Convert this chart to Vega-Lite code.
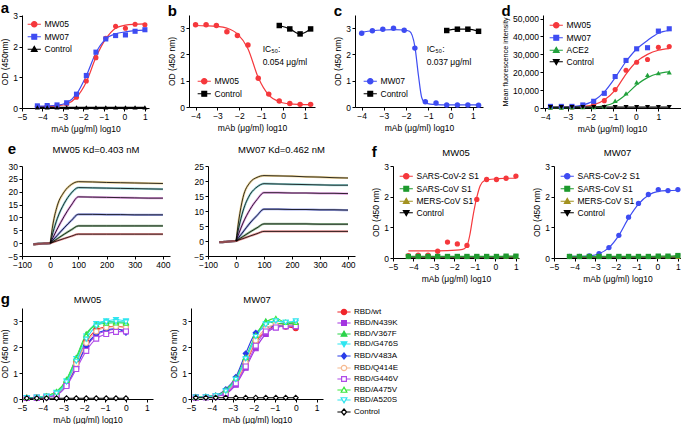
{
"$schema": "https://vega.github.io/schema/vega-lite/v6.json",
"background": "white",
"padding": {"left": 0, "top": 0, "right": 0, "bottom": 0},
"config": {
 "font": "Liberation Sans",
 "view": {"stroke": null},
 "axis": {"labelFontSize": 8.5, "titleFontSize": 8.5, "titleFontWeight": "normal", "tickSize": 3, "labelPadding": 1.5, "titlePadding": 3, "domainColor": "#000", "tickColor": "#000", "labelColor": "#000", "titleColor": "#000", "grid": false, "labelFlush": false, "labelFont": "Liberation Sans", "titleFont": "Liberation Sans"},
 "legend": {"labelFontSize": 8.5, "labelFont": "Liberation Sans", "labelColor": "#000", "symbolSize": 36, "rowPadding": 1.5, "padding": 0, "labelOffset": 6, "symbolOffset": 3, "offset": 5, "symbolStrokeWidth": 1.2},
 "title": {"fontSize": 15, "fontWeight": "bold", "anchor": "start", "color": "#000", "font": "Liberation Sans"}
},
"resolve": {"scale": {"color": "independent", "shape": "independent", "fill": "independent", "stroke": "independent"}, "legend": {"color": "independent"}},
"datasets": {
 "a": [
  {"s":"MW05","k":"p","x":-4.25,"y":0.05},{"s":"MW05","k":"p","x":-3.77,"y":0.07},{"s":"MW05","k":"p","x":-3.29,"y":0.08},{"s":"MW05","k":"p","x":-2.82,"y":0.14},{"s":"MW05","k":"p","x":-2.34,"y":0.35},{"s":"MW05","k":"p","x":-1.86,"y":0.88},{"s":"MW05","k":"p","x":-1.39,"y":1.64},{"s":"MW05","k":"p","x":-0.91,"y":2.27},{"s":"MW05","k":"p","x":-0.43,"y":2.66},{"s":"MW05","k":"p","x":0.05,"y":2.6},{"s":"MW05","k":"p","x":0.52,"y":2.73},{"s":"MW05","k":"p","x":1.0,"y":2.71},
  {"s":"MW05","k":"f","x":-4.25,"y":0.04},{"s":"MW05","k":"f","x":-3.77,"y":0.05},{"s":"MW05","k":"f","x":-3.29,"y":0.07},{"s":"MW05","k":"f","x":-2.82,"y":0.13},{"s":"MW05","k":"f","x":-2.34,"y":0.35},{"s":"MW05","k":"f","x":-1.86,"y":0.85},{"s":"MW05","k":"f","x":-1.39,"y":1.65},{"s":"MW05","k":"f","x":-0.91,"y":2.25},{"s":"MW05","k":"f","x":-0.43,"y":2.6},{"s":"MW05","k":"f","x":0.05,"y":2.7},{"s":"MW05","k":"f","x":0.52,"y":2.73},{"s":"MW05","k":"f","x":1.0,"y":2.74},
  {"s":"MW07","k":"p","x":-4.25,"y":0.07},{"s":"MW07","k":"p","x":-3.77,"y":0.08},{"s":"MW07","k":"p","x":-3.29,"y":0.1},{"s":"MW07","k":"p","x":-2.82,"y":0.17},{"s":"MW07","k":"p","x":-2.34,"y":0.45},{"s":"MW07","k":"p","x":-1.86,"y":1.06},{"s":"MW07","k":"p","x":-1.39,"y":1.82},{"s":"MW07","k":"p","x":-0.91,"y":2.25},{"s":"MW07","k":"p","x":-0.43,"y":2.36},{"s":"MW07","k":"p","x":0.05,"y":2.38},{"s":"MW07","k":"p","x":0.52,"y":2.5},{"s":"MW07","k":"p","x":1.0,"y":2.55},
  {"s":"MW07","k":"f","x":-4.25,"y":0.06},{"s":"MW07","k":"f","x":-3.77,"y":0.07},{"s":"MW07","k":"f","x":-3.29,"y":0.09},{"s":"MW07","k":"f","x":-2.82,"y":0.17},{"s":"MW07","k":"f","x":-2.34,"y":0.45},{"s":"MW07","k":"f","x":-1.86,"y":1.05},{"s":"MW07","k":"f","x":-1.39,"y":1.8},{"s":"MW07","k":"f","x":-0.91,"y":2.25},{"s":"MW07","k":"f","x":-0.43,"y":2.42},{"s":"MW07","k":"f","x":0.05,"y":2.48},{"s":"MW07","k":"f","x":0.52,"y":2.52},{"s":"MW07","k":"f","x":1.0,"y":2.54},
  {"s":"Control","k":"pf","x":-4.25,"y":0.02},{"s":"Control","k":"pf","x":-3.77,"y":0.02},{"s":"Control","k":"pf","x":-3.29,"y":0.02},{"s":"Control","k":"pf","x":-2.82,"y":0.02},{"s":"Control","k":"pf","x":-2.34,"y":0.02},{"s":"Control","k":"pf","x":-1.86,"y":0.02},{"s":"Control","k":"pf","x":-1.39,"y":0.02},{"s":"Control","k":"pf","x":-0.91,"y":0.02},{"s":"Control","k":"pf","x":-0.43,"y":0.02},{"s":"Control","k":"pf","x":0.05,"y":0.02},{"s":"Control","k":"pf","x":0.52,"y":0.02},{"s":"Control","k":"pf","x":1.0,"y":0.02}
 ],
 "b": [
  {"s":"MW05","k":"p","x":-4.0,"y":3.13},{"s":"MW05","k":"p","x":-3.52,"y":3.13},{"s":"MW05","k":"p","x":-3.05,"y":3.1},{"s":"MW05","k":"p","x":-2.57,"y":2.86},{"s":"MW05","k":"p","x":-2.09,"y":2.72},{"s":"MW05","k":"p","x":-1.61,"y":2.36},{"s":"MW05","k":"p","x":-1.14,"y":1.09},{"s":"MW05","k":"p","x":-0.66,"y":0.49},{"s":"MW05","k":"p","x":-0.18,"y":0.23},{"s":"MW05","k":"p","x":0.3,"y":0.13},{"s":"MW05","k":"p","x":0.77,"y":0.1},{"s":"MW05","k":"p","x":1.25,"y":0.1},
  {"s":"MW05","k":"f","x":-4.0,"y":3.1},{"s":"MW05","k":"f","x":-3.52,"y":3.09},{"s":"MW05","k":"f","x":-3.05,"y":3.07},{"s":"MW05","k":"f","x":-2.57,"y":3.0},{"s":"MW05","k":"f","x":-2.09,"y":2.78},{"s":"MW05","k":"f","x":-1.61,"y":2.22},{"s":"MW05","k":"f","x":-1.14,"y":1.12},{"s":"MW05","k":"f","x":-0.66,"y":0.45},{"s":"MW05","k":"f","x":-0.18,"y":0.2},{"s":"MW05","k":"f","x":0.3,"y":0.12},{"s":"MW05","k":"f","x":0.77,"y":0.1},{"s":"MW05","k":"f","x":1.25,"y":0.09},
  {"s":"Control","k":"pf","x":-0.18,"y":3.1},{"s":"Control","k":"pf","x":0.3,"y":2.97},{"s":"Control","k":"pf","x":0.77,"y":2.78},{"s":"Control","k":"pf","x":1.25,"y":2.97},
  {"k":"t","x":-0.94,"y":2.2,"t":"IC₅₀:"},{"k":"t","x":-0.94,"y":1.72,"t":"0.054 μg/ml"}
 ],
 "c": [
  {"s":"MW07","k":"p","x":-4.0,"y":2.81},{"s":"MW07","k":"p","x":-3.52,"y":2.9},{"s":"MW07","k":"p","x":-3.05,"y":2.96},{"s":"MW07","k":"p","x":-2.57,"y":3.0},{"s":"MW07","k":"p","x":-2.09,"y":2.92},{"s":"MW07","k":"p","x":-1.61,"y":2.24},{"s":"MW07","k":"p","x":-1.14,"y":0.2},{"s":"MW07","k":"p","x":-0.66,"y":0.15},{"s":"MW07","k":"p","x":-0.18,"y":0.08},{"s":"MW07","k":"p","x":0.3,"y":0.08},{"s":"MW07","k":"p","x":0.77,"y":0.08},{"s":"MW07","k":"p","x":1.25,"y":0.07},
  {"s":"MW07","k":"f","x":-4.0,"y":2.84},{"s":"MW07","k":"f","x":-3.52,"y":2.9},{"s":"MW07","k":"f","x":-3.05,"y":2.93},{"s":"MW07","k":"f","x":-2.57,"y":2.94},{"s":"MW07","k":"f","x":-2.09,"y":2.93},{"s":"MW07","k":"f","x":-1.85,"y":2.88},{"s":"MW07","k":"f","x":-1.61,"y":2.3},{"s":"MW07","k":"f","x":-1.45,"y":1.2},{"s":"MW07","k":"f","x":-1.3,"y":0.35},{"s":"MW07","k":"f","x":-1.14,"y":0.15},{"s":"MW07","k":"f","x":-0.66,"y":0.09},{"s":"MW07","k":"f","x":-0.18,"y":0.08},{"s":"MW07","k":"f","x":0.3,"y":0.08},{"s":"MW07","k":"f","x":0.77,"y":0.08},{"s":"MW07","k":"f","x":1.25,"y":0.08},
  {"s":"Control","k":"pf","x":-0.18,"y":2.91},{"s":"Control","k":"pf","x":0.3,"y":2.96},{"s":"Control","k":"pf","x":0.77,"y":2.96},{"s":"Control","k":"pf","x":1.25,"y":2.88},
  {"k":"t","x":-1.08,"y":2.2,"t":"IC₅₀:"},{"k":"t","x":-1.08,"y":1.72,"t":"0.037 μg/ml"}
 ],
 "d": [
  {"s":"MW05","k":"p","x":-3.77,"y":400},{"s":"MW05","k":"p","x":-3.29,"y":500},{"s":"MW05","k":"p","x":-2.82,"y":600},{"s":"MW05","k":"p","x":-2.34,"y":800},{"s":"MW05","k":"p","x":-1.86,"y":1900},{"s":"MW05","k":"p","x":-1.39,"y":4100},{"s":"MW05","k":"p","x":-0.91,"y":10300},{"s":"MW05","k":"p","x":-0.43,"y":21100},{"s":"MW05","k":"p","x":0.04,"y":25600},{"s":"MW05","k":"p","x":0.52,"y":27100},{"s":"MW05","k":"p","x":1.0,"y":33900},{"s":"MW05","k":"p","x":1.48,"y":34400},
  {"s":"MW05","k":"f","x":-3.77,"y":200},{"s":"MW05","k":"f","x":-3.29,"y":300},{"s":"MW05","k":"f","x":-2.82,"y":400},{"s":"MW05","k":"f","x":-2.34,"y":800},{"s":"MW05","k":"f","x":-1.86,"y":1800},{"s":"MW05","k":"f","x":-1.39,"y":4500},{"s":"MW05","k":"f","x":-0.91,"y":10000},{"s":"MW05","k":"f","x":-0.43,"y":19000},{"s":"MW05","k":"f","x":0.04,"y":26000},{"s":"MW05","k":"f","x":0.52,"y":30000},{"s":"MW05","k":"f","x":1.0,"y":32300},{"s":"MW05","k":"f","x":1.48,"y":33200},
  {"s":"MW07","k":"p","x":-3.77,"y":900},{"s":"MW07","k":"p","x":-3.29,"y":900},{"s":"MW07","k":"p","x":-2.82,"y":900},{"s":"MW07","k":"p","x":-2.34,"y":1700},{"s":"MW07","k":"p","x":-1.86,"y":3750},{"s":"MW07","k":"p","x":-1.39,"y":8200},{"s":"MW07","k":"p","x":-0.91,"y":17600},{"s":"MW07","k":"p","x":-0.43,"y":26600},{"s":"MW07","k":"p","x":0.04,"y":33100},{"s":"MW07","k":"p","x":0.52,"y":33700},{"s":"MW07","k":"p","x":1.0,"y":43000},{"s":"MW07","k":"p","x":1.48,"y":44300},
  {"s":"MW07","k":"f","x":-3.77,"y":300},{"s":"MW07","k":"f","x":-3.29,"y":400},{"s":"MW07","k":"f","x":-2.82,"y":700},{"s":"MW07","k":"f","x":-2.34,"y":1600},{"s":"MW07","k":"f","x":-1.86,"y":4000},{"s":"MW07","k":"f","x":-1.39,"y":9000},{"s":"MW07","k":"f","x":-0.91,"y":17000},{"s":"MW07","k":"f","x":-0.43,"y":26000},{"s":"MW07","k":"f","x":0.04,"y":33000},{"s":"MW07","k":"f","x":0.52,"y":37800},{"s":"MW07","k":"f","x":1.0,"y":41800},{"s":"MW07","k":"f","x":1.48,"y":43400},
  {"s":"ACE2","k":"p","x":-3.77,"y":300},{"s":"ACE2","k":"p","x":-3.29,"y":300},{"s":"ACE2","k":"p","x":-2.82,"y":400},{"s":"ACE2","k":"p","x":-2.34,"y":500},{"s":"ACE2","k":"p","x":-1.86,"y":600},{"s":"ACE2","k":"p","x":-1.39,"y":900},{"s":"ACE2","k":"p","x":-0.91,"y":4100},{"s":"ACE2","k":"p","x":-0.43,"y":8200},{"s":"ACE2","k":"p","x":0.04,"y":14400},{"s":"ACE2","k":"p","x":0.52,"y":18500},{"s":"ACE2","k":"p","x":1.0,"y":19600},{"s":"ACE2","k":"p","x":1.48,"y":20000},
  {"s":"ACE2","k":"f","x":-3.77,"y":200},{"s":"ACE2","k":"f","x":-3.29,"y":200},{"s":"ACE2","k":"f","x":-2.82,"y":300},{"s":"ACE2","k":"f","x":-2.34,"y":400},{"s":"ACE2","k":"f","x":-1.86,"y":500},{"s":"ACE2","k":"f","x":-1.39,"y":1200},{"s":"ACE2","k":"f","x":-0.91,"y":3200},{"s":"ACE2","k":"f","x":-0.43,"y":7500},{"s":"ACE2","k":"f","x":0.04,"y":13000},{"s":"ACE2","k":"f","x":0.52,"y":17000},{"s":"ACE2","k":"f","x":1.0,"y":19300},{"s":"ACE2","k":"f","x":1.48,"y":20200},
  {"s":"Control","k":"pf","x":-3.77,"y":500},{"s":"Control","k":"pf","x":-3.29,"y":500},{"s":"Control","k":"pf","x":-2.82,"y":500},{"s":"Control","k":"pf","x":-2.34,"y":500},{"s":"Control","k":"pf","x":-1.86,"y":500},{"s":"Control","k":"pf","x":-1.39,"y":500},{"s":"Control","k":"pf","x":-0.91,"y":500},{"s":"Control","k":"pf","x":-0.43,"y":500},{"s":"Control","k":"pf","x":0.04,"y":500},{"s":"Control","k":"pf","x":0.52,"y":500},{"s":"Control","k":"pf","x":1.0,"y":500},{"s":"Control","k":"pf","x":1.48,"y":500}
 ],
 "e1": [
  {"c":1,"t":-60,"y":-0.6},{"c":1,"t":-40,"y":-0.3},{"c":1,"t":-20,"y":-0.2},{"c":1,"t":0,"y":0},{"c":1,"t":10,"y":7.5},{"c":1,"t":25,"y":14.5},{"c":1,"t":50,"y":20},{"c":1,"t":75,"y":22.8},{"c":1,"t":100,"y":23.9},{"c":1,"t":150,"y":23.8},{"c":1,"t":200,"y":23.6},{"c":1,"t":250,"y":23.5},{"c":1,"t":300,"y":23.4},{"c":1,"t":350,"y":23.3},{"c":1,"t":400,"y":23.2},
  {"c":2,"t":-60,"y":-0.6},{"c":2,"t":-40,"y":-0.3},{"c":2,"t":-20,"y":-0.2},{"c":2,"t":0,"y":0},{"c":2,"t":10,"y":4.2},{"c":2,"t":25,"y":9.5},{"c":2,"t":50,"y":15.5},{"c":2,"t":75,"y":19.5},{"c":2,"t":100,"y":21.6},{"c":2,"t":150,"y":21.5},{"c":2,"t":200,"y":21.4},{"c":2,"t":250,"y":21.3},{"c":2,"t":300,"y":21.2},{"c":2,"t":350,"y":21.1},{"c":2,"t":400,"y":21.0},
  {"c":3,"t":-60,"y":-0.5},{"c":3,"t":-40,"y":-0.3},{"c":3,"t":-20,"y":-0.1},{"c":3,"t":0,"y":0},{"c":3,"t":10,"y":2.2},{"c":3,"t":25,"y":5.5},{"c":3,"t":50,"y":10.5},{"c":3,"t":75,"y":14.8},{"c":3,"t":100,"y":18.0},{"c":3,"t":150,"y":17.9},{"c":3,"t":200,"y":17.8},{"c":3,"t":250,"y":17.7},{"c":3,"t":300,"y":17.6},{"c":3,"t":350,"y":17.5},{"c":3,"t":400,"y":17.5},
  {"c":4,"t":-60,"y":-0.4},{"c":4,"t":-40,"y":-0.2},{"c":4,"t":-20,"y":-0.1},{"c":4,"t":0,"y":0},{"c":4,"t":10,"y":1.2},{"c":4,"t":25,"y":3.0},{"c":4,"t":50,"y":6.0},{"c":4,"t":75,"y":8.8},{"c":4,"t":100,"y":11.2},{"c":4,"t":150,"y":11.2},{"c":4,"t":200,"y":11.1},{"c":4,"t":250,"y":11.1},{"c":4,"t":300,"y":11.0},{"c":4,"t":350,"y":11.0},{"c":4,"t":400,"y":11.0},
  {"c":5,"t":-60,"y":-0.5},{"c":5,"t":-40,"y":-0.2},{"c":5,"t":-20,"y":-0.1},{"c":5,"t":0,"y":0},{"c":5,"t":10,"y":0.6},{"c":5,"t":25,"y":1.7},{"c":5,"t":50,"y":3.5},{"c":5,"t":75,"y":5.2},{"c":5,"t":100,"y":6.7},{"c":5,"t":150,"y":6.7},{"c":5,"t":200,"y":6.7},{"c":5,"t":250,"y":6.7},{"c":5,"t":300,"y":6.7},{"c":5,"t":350,"y":6.7},{"c":5,"t":400,"y":6.7},
  {"c":6,"t":-60,"y":-0.5},{"c":6,"t":-40,"y":-0.3},{"c":6,"t":-20,"y":-0.1},{"c":6,"t":0,"y":0},{"c":6,"t":10,"y":0.35},{"c":6,"t":25,"y":0.9},{"c":6,"t":50,"y":1.8},{"c":6,"t":75,"y":2.7},{"c":6,"t":100,"y":3.5},{"c":6,"t":150,"y":3.5},{"c":6,"t":200,"y":3.5},{"c":6,"t":250,"y":3.5},{"c":6,"t":300,"y":3.5},{"c":6,"t":350,"y":3.5},{"c":6,"t":400,"y":3.5}
 ],
 "e2": [
  {"c":1,"t":-60,"y":-0.4},{"c":1,"t":-40,"y":-0.3},{"c":1,"t":-20,"y":-0.1},{"c":1,"t":0,"y":0},{"c":1,"t":10,"y":7.0},{"c":1,"t":25,"y":14.5},{"c":1,"t":50,"y":19.5},{"c":1,"t":75,"y":21.2},{"c":1,"t":100,"y":21.8},{"c":1,"t":150,"y":21.7},{"c":1,"t":200,"y":21.6},{"c":1,"t":250,"y":21.4},{"c":1,"t":300,"y":21.3},{"c":1,"t":350,"y":21.1},{"c":1,"t":400,"y":21.0},
  {"c":2,"t":-60,"y":-0.4},{"c":2,"t":-40,"y":-0.3},{"c":2,"t":-20,"y":-0.1},{"c":2,"t":0,"y":0},{"c":2,"t":10,"y":4.5},{"c":2,"t":25,"y":10.0},{"c":2,"t":50,"y":15.5},{"c":2,"t":75,"y":18.0},{"c":2,"t":100,"y":19.1},{"c":2,"t":150,"y":19.0},{"c":2,"t":200,"y":18.9},{"c":2,"t":250,"y":18.8},{"c":2,"t":300,"y":18.7},{"c":2,"t":350,"y":18.6},{"c":2,"t":400,"y":18.6},
  {"c":3,"t":-60,"y":-0.4},{"c":3,"t":-40,"y":-0.3},{"c":3,"t":-20,"y":-0.1},{"c":3,"t":0,"y":0},{"c":3,"t":10,"y":2.5},{"c":3,"t":25,"y":6.0},{"c":3,"t":50,"y":10.5},{"c":3,"t":75,"y":13.8},{"c":3,"t":100,"y":16.1},{"c":3,"t":150,"y":16.1},{"c":3,"t":200,"y":16.0},{"c":3,"t":250,"y":16.0},{"c":3,"t":300,"y":15.9},{"c":3,"t":350,"y":15.9},{"c":3,"t":400,"y":15.8},
  {"c":4,"t":-60,"y":-0.4},{"c":4,"t":-40,"y":-0.3},{"c":4,"t":-20,"y":-0.1},{"c":4,"t":0,"y":0},{"c":4,"t":10,"y":1.2},{"c":4,"t":25,"y":3.0},{"c":4,"t":50,"y":6.0},{"c":4,"t":75,"y":8.5},{"c":4,"t":100,"y":10.6},{"c":4,"t":150,"y":10.6},{"c":4,"t":200,"y":10.5},{"c":4,"t":250,"y":10.5},{"c":4,"t":300,"y":10.4},{"c":4,"t":350,"y":10.4},{"c":4,"t":400,"y":10.3},
  {"c":5,"t":-60,"y":-0.4},{"c":5,"t":-40,"y":-0.3},{"c":5,"t":-20,"y":-0.1},{"c":5,"t":0,"y":0},{"c":5,"t":10,"y":0.6},{"c":5,"t":25,"y":1.5},{"c":5,"t":50,"y":3.0},{"c":5,"t":75,"y":4.4},{"c":5,"t":100,"y":5.7},{"c":5,"t":150,"y":5.7},{"c":5,"t":200,"y":5.7},{"c":5,"t":250,"y":5.7},{"c":5,"t":300,"y":5.6},{"c":5,"t":350,"y":5.6},{"c":5,"t":400,"y":5.6},
  {"c":6,"t":-60,"y":-0.4},{"c":6,"t":-40,"y":-0.3},{"c":6,"t":-20,"y":-0.1},{"c":6,"t":0,"y":0},{"c":6,"t":10,"y":0.35},{"c":6,"t":25,"y":0.8},{"c":6,"t":50,"y":1.65},{"c":6,"t":75,"y":2.45},{"c":6,"t":100,"y":3.2},{"c":6,"t":150,"y":3.2},{"c":6,"t":200,"y":3.2},{"c":6,"t":250,"y":3.2},{"c":6,"t":300,"y":3.2},{"c":6,"t":350,"y":3.2},{"c":6,"t":400,"y":3.2}
 ],
 "f1": [
  {"s":"Control","k":"pf","x":-4.25,"y":0.03},{"s":"Control","k":"pf","x":-3.77,"y":0.03},{"s":"Control","k":"pf","x":-3.29,"y":0.03},{"s":"Control","k":"pf","x":-2.82,"y":0.03},{"s":"Control","k":"pf","x":-2.34,"y":0.03},{"s":"Control","k":"pf","x":-1.86,"y":0.03},{"s":"Control","k":"pf","x":-1.39,"y":0.03},{"s":"Control","k":"pf","x":-0.91,"y":0.03},{"s":"Control","k":"pf","x":-0.43,"y":0.03},{"s":"Control","k":"pf","x":0.05,"y":0.03},{"s":"Control","k":"pf","x":0.52,"y":0.03},{"s":"Control","k":"pf","x":1.0,"y":0.03},
  {"s":"MERS-CoV S1","k":"pf","x":-4.25,"y":0.04},{"s":"MERS-CoV S1","k":"pf","x":-3.77,"y":0.04},{"s":"MERS-CoV S1","k":"pf","x":-3.29,"y":0.04},{"s":"MERS-CoV S1","k":"pf","x":-2.82,"y":0.04},{"s":"MERS-CoV S1","k":"pf","x":-2.34,"y":0.04},{"s":"MERS-CoV S1","k":"pf","x":-1.86,"y":0.04},{"s":"MERS-CoV S1","k":"pf","x":-1.39,"y":0.04},{"s":"MERS-CoV S1","k":"pf","x":-0.91,"y":0.04},{"s":"MERS-CoV S1","k":"pf","x":-0.43,"y":0.04},{"s":"MERS-CoV S1","k":"pf","x":0.05,"y":0.04},{"s":"MERS-CoV S1","k":"pf","x":0.52,"y":0.04},{"s":"MERS-CoV S1","k":"pf","x":1.0,"y":0.04},
  {"s":"SARS-CoV-2 S1","k":"p","x":-4.25,"y":0.08},{"s":"SARS-CoV-2 S1","k":"p","x":-3.77,"y":0.09},{"s":"SARS-CoV-2 S1","k":"p","x":-3.29,"y":0.09},{"s":"SARS-CoV-2 S1","k":"p","x":-2.82,"y":0.22},{"s":"SARS-CoV-2 S1","k":"p","x":-2.34,"y":0.52},{"s":"SARS-CoV-2 S1","k":"p","x":-1.86,"y":0.46},{"s":"SARS-CoV-2 S1","k":"p","x":-1.39,"y":0.41},{"s":"SARS-CoV-2 S1","k":"p","x":-0.91,"y":1.91},{"s":"SARS-CoV-2 S1","k":"p","x":-0.43,"y":2.56},{"s":"SARS-CoV-2 S1","k":"p","x":0.05,"y":2.56},{"s":"SARS-CoV-2 S1","k":"p","x":0.52,"y":2.6},{"s":"SARS-CoV-2 S1","k":"p","x":1.0,"y":2.67},
  {"s":"SARS-CoV-2 S1","k":"f","x":-4.25,"y":0.23},{"s":"SARS-CoV-2 S1","k":"f","x":-3.29,"y":0.23},{"s":"SARS-CoV-2 S1","k":"f","x":-2.34,"y":0.24},{"s":"SARS-CoV-2 S1","k":"f","x":-1.6,"y":0.28},{"s":"SARS-CoV-2 S1","k":"f","x":-1.39,"y":0.4},{"s":"SARS-CoV-2 S1","k":"f","x":-1.25,"y":0.75},{"s":"SARS-CoV-2 S1","k":"f","x":-1.1,"y":1.35},{"s":"SARS-CoV-2 S1","k":"f","x":-0.92,"y":1.95},{"s":"SARS-CoV-2 S1","k":"f","x":-0.75,"y":2.35},{"s":"SARS-CoV-2 S1","k":"f","x":-0.55,"y":2.52},{"s":"SARS-CoV-2 S1","k":"f","x":-0.3,"y":2.56},{"s":"SARS-CoV-2 S1","k":"f","x":0.05,"y":2.58},{"s":"SARS-CoV-2 S1","k":"f","x":0.5,"y":2.6},{"s":"SARS-CoV-2 S1","k":"f","x":1.0,"y":2.6},
  {"s":"SARS-CoV S1","k":"pf","x":-4.25,"y":0.05},{"s":"SARS-CoV S1","k":"pf","x":-3.77,"y":0.05},{"s":"SARS-CoV S1","k":"pf","x":-3.29,"y":0.05},{"s":"SARS-CoV S1","k":"pf","x":-2.82,"y":0.05},{"s":"SARS-CoV S1","k":"pf","x":-2.34,"y":0.05},{"s":"SARS-CoV S1","k":"pf","x":-1.86,"y":0.05},{"s":"SARS-CoV S1","k":"pf","x":-1.39,"y":0.05},{"s":"SARS-CoV S1","k":"pf","x":-0.91,"y":0.05},{"s":"SARS-CoV S1","k":"pf","x":-0.43,"y":0.05},{"s":"SARS-CoV S1","k":"pf","x":0.05,"y":0.05},{"s":"SARS-CoV S1","k":"pf","x":0.52,"y":0.06},{"s":"SARS-CoV S1","k":"pf","x":1.0,"y":0.06}
 ],
 "f2": [
  {"s":"Control","k":"pf","x":-4.25,"y":0.03},{"s":"Control","k":"pf","x":-3.77,"y":0.03},{"s":"Control","k":"pf","x":-3.29,"y":0.03},{"s":"Control","k":"pf","x":-2.82,"y":0.03},{"s":"Control","k":"pf","x":-2.34,"y":0.03},{"s":"Control","k":"pf","x":-1.86,"y":0.03},{"s":"Control","k":"pf","x":-1.39,"y":0.03},{"s":"Control","k":"pf","x":-0.91,"y":0.03},{"s":"Control","k":"pf","x":-0.43,"y":0.03},{"s":"Control","k":"pf","x":0.05,"y":0.03},{"s":"Control","k":"pf","x":0.52,"y":0.03},{"s":"Control","k":"pf","x":1.0,"y":0.03},
  {"s":"MERS-CoV S1","k":"pf","x":-4.25,"y":0.04},{"s":"MERS-CoV S1","k":"pf","x":-3.77,"y":0.04},{"s":"MERS-CoV S1","k":"pf","x":-3.29,"y":0.04},{"s":"MERS-CoV S1","k":"pf","x":-2.82,"y":0.04},{"s":"MERS-CoV S1","k":"pf","x":-2.34,"y":0.04},{"s":"MERS-CoV S1","k":"pf","x":-1.86,"y":0.04},{"s":"MERS-CoV S1","k":"pf","x":-1.39,"y":0.04},{"s":"MERS-CoV S1","k":"pf","x":-0.91,"y":0.04},{"s":"MERS-CoV S1","k":"pf","x":-0.43,"y":0.04},{"s":"MERS-CoV S1","k":"pf","x":0.05,"y":0.04},{"s":"MERS-CoV S1","k":"pf","x":0.52,"y":0.04},{"s":"MERS-CoV S1","k":"pf","x":1.0,"y":0.04},
  {"s":"SARS-CoV-2 S1","k":"p","x":-4.25,"y":0.05},{"s":"SARS-CoV-2 S1","k":"p","x":-3.77,"y":0.05},{"s":"SARS-CoV-2 S1","k":"p","x":-3.29,"y":0.07},{"s":"SARS-CoV-2 S1","k":"p","x":-2.82,"y":0.14},{"s":"SARS-CoV-2 S1","k":"p","x":-2.34,"y":0.34},{"s":"SARS-CoV-2 S1","k":"p","x":-1.86,"y":0.74},{"s":"SARS-CoV-2 S1","k":"p","x":-1.39,"y":1.33},{"s":"SARS-CoV-2 S1","k":"p","x":-0.91,"y":1.78},{"s":"SARS-CoV-2 S1","k":"p","x":-0.43,"y":2.07},{"s":"SARS-CoV-2 S1","k":"p","x":0.05,"y":2.23},{"s":"SARS-CoV-2 S1","k":"p","x":0.52,"y":2.2},{"s":"SARS-CoV-2 S1","k":"p","x":1.0,"y":2.23},
  {"s":"SARS-CoV-2 S1","k":"f","x":-4.25,"y":0.05},{"s":"SARS-CoV-2 S1","k":"f","x":-3.77,"y":0.05},{"s":"SARS-CoV-2 S1","k":"f","x":-3.29,"y":0.07},{"s":"SARS-CoV-2 S1","k":"f","x":-2.82,"y":0.14},{"s":"SARS-CoV-2 S1","k":"f","x":-2.34,"y":0.34},{"s":"SARS-CoV-2 S1","k":"f","x":-1.86,"y":0.74},{"s":"SARS-CoV-2 S1","k":"f","x":-1.39,"y":1.3},{"s":"SARS-CoV-2 S1","k":"f","x":-0.91,"y":1.76},{"s":"SARS-CoV-2 S1","k":"f","x":-0.43,"y":2.05},{"s":"SARS-CoV-2 S1","k":"f","x":0.05,"y":2.17},{"s":"SARS-CoV-2 S1","k":"f","x":0.52,"y":2.2},{"s":"SARS-CoV-2 S1","k":"f","x":1.0,"y":2.21},
  {"s":"SARS-CoV S1","k":"pf","x":-4.25,"y":0.05},{"s":"SARS-CoV S1","k":"pf","x":-3.77,"y":0.05},{"s":"SARS-CoV S1","k":"pf","x":-3.29,"y":0.05},{"s":"SARS-CoV S1","k":"pf","x":-2.82,"y":0.05},{"s":"SARS-CoV S1","k":"pf","x":-2.34,"y":0.05},{"s":"SARS-CoV S1","k":"pf","x":-1.86,"y":0.05},{"s":"SARS-CoV S1","k":"pf","x":-1.39,"y":0.05},{"s":"SARS-CoV S1","k":"pf","x":-0.91,"y":0.05},{"s":"SARS-CoV S1","k":"pf","x":-0.43,"y":0.05},{"s":"SARS-CoV S1","k":"pf","x":0.05,"y":0.06},{"s":"SARS-CoV S1","k":"pf","x":0.52,"y":0.06},{"s":"SARS-CoV S1","k":"pf","x":1.0,"y":0.08}
 ],
 "g1": [
  {"s":"RBD/wt","x":-4.77,"y":0.05},{"s":"RBD/wt","x":-4.29,"y":0.06},{"s":"RBD/wt","x":-3.82,"y":0.1},{"s":"RBD/wt","x":-3.34,"y":0.2},{"s":"RBD/wt","x":-2.86,"y":0.62},{"s":"RBD/wt","x":-2.39,"y":1.42},{"s":"RBD/wt","x":-1.91,"y":2.2},{"s":"RBD/wt","x":-1.43,"y":2.65},{"s":"RBD/wt","x":-0.95,"y":2.78},{"s":"RBD/wt","x":-0.48,"y":2.8},{"s":"RBD/wt","x":0,"y":2.75},
  {"s":"RBD/N439K","x":-4.77,"y":0.04},{"s":"RBD/N439K","x":-4.29,"y":0.05},{"s":"RBD/N439K","x":-3.82,"y":0.09},{"s":"RBD/N439K","x":-3.34,"y":0.17},{"s":"RBD/N439K","x":-2.86,"y":0.55},{"s":"RBD/N439K","x":-2.39,"y":1.25},{"s":"RBD/N439K","x":-1.91,"y":2.0},{"s":"RBD/N439K","x":-1.43,"y":2.45},{"s":"RBD/N439K","x":-0.95,"y":2.62},{"s":"RBD/N439K","x":-0.48,"y":2.68},{"s":"RBD/N439K","x":0,"y":2.65},
  {"s":"RBD/V367F","x":-4.77,"y":0.06},{"s":"RBD/V367F","x":-4.29,"y":0.07},{"s":"RBD/V367F","x":-3.82,"y":0.12},{"s":"RBD/V367F","x":-3.34,"y":0.28},{"s":"RBD/V367F","x":-2.86,"y":0.75},{"s":"RBD/V367F","x":-2.39,"y":1.6},{"s":"RBD/V367F","x":-1.91,"y":2.5},{"s":"RBD/V367F","x":-1.43,"y":2.88},{"s":"RBD/V367F","x":-0.95,"y":2.98},{"s":"RBD/V367F","x":-0.48,"y":2.97},{"s":"RBD/V367F","x":0,"y":2.95},
  {"s":"RBD/G476S","x":-4.77,"y":0.05},{"s":"RBD/G476S","x":-4.29,"y":0.07},{"s":"RBD/G476S","x":-3.82,"y":0.11},{"s":"RBD/G476S","x":-3.34,"y":0.25},{"s":"RBD/G476S","x":-2.86,"y":0.7},{"s":"RBD/G476S","x":-2.39,"y":1.55},{"s":"RBD/G476S","x":-1.91,"y":2.42},{"s":"RBD/G476S","x":-1.43,"y":2.9},{"s":"RBD/G476S","x":-0.95,"y":3.0},{"s":"RBD/G476S","x":-0.48,"y":3.05},{"s":"RBD/G476S","x":0,"y":3.0},
  {"s":"RBD/V483A","x":-4.77,"y":0.04},{"s":"RBD/V483A","x":-4.29,"y":0.05},{"s":"RBD/V483A","x":-3.82,"y":0.08},{"s":"RBD/V483A","x":-3.34,"y":0.16},{"s":"RBD/V483A","x":-2.86,"y":0.55},{"s":"RBD/V483A","x":-2.39,"y":1.25},{"s":"RBD/V483A","x":-1.91,"y":2.05},{"s":"RBD/V483A","x":-1.43,"y":2.5},{"s":"RBD/V483A","x":-0.95,"y":2.65},{"s":"RBD/V483A","x":-0.48,"y":2.7},{"s":"RBD/V483A","x":0,"y":2.55},
  {"s":"RBD/Q414E","x":-4.77,"y":0.05},{"s":"RBD/Q414E","x":-4.29,"y":0.06},{"s":"RBD/Q414E","x":-3.82,"y":0.1},{"s":"RBD/Q414E","x":-3.34,"y":0.2},{"s":"RBD/Q414E","x":-2.86,"y":0.6},{"s":"RBD/Q414E","x":-2.39,"y":1.35},{"s":"RBD/Q414E","x":-1.91,"y":2.15},{"s":"RBD/Q414E","x":-1.43,"y":2.6},{"s":"RBD/Q414E","x":-0.95,"y":2.75},{"s":"RBD/Q414E","x":-0.48,"y":2.78},{"s":"RBD/Q414E","x":0,"y":2.75},
  {"s":"RBD/G446V","x":-4.77,"y":0.04},{"s":"RBD/G446V","x":-4.29,"y":0.05},{"s":"RBD/G446V","x":-3.82,"y":0.08},{"s":"RBD/G446V","x":-3.34,"y":0.15},{"s":"RBD/G446V","x":-2.86,"y":0.5},{"s":"RBD/G446V","x":-2.39,"y":1.15},{"s":"RBD/G446V","x":-1.91,"y":1.85},{"s":"RBD/G446V","x":-1.43,"y":2.32},{"s":"RBD/G446V","x":-0.95,"y":2.5},{"s":"RBD/G446V","x":-0.48,"y":2.58},{"s":"RBD/G446V","x":0,"y":2.6},
  {"s":"RBD/A475V","x":-4.77,"y":0.06},{"s":"RBD/A475V","x":-4.29,"y":0.07},{"s":"RBD/A475V","x":-3.82,"y":0.12},{"s":"RBD/A475V","x":-3.34,"y":0.28},{"s":"RBD/A475V","x":-2.86,"y":0.72},{"s":"RBD/A475V","x":-2.39,"y":1.55},{"s":"RBD/A475V","x":-1.91,"y":2.45},{"s":"RBD/A475V","x":-1.43,"y":2.85},{"s":"RBD/A475V","x":-0.95,"y":2.92},{"s":"RBD/A475V","x":-0.48,"y":2.93},{"s":"RBD/A475V","x":0,"y":2.92},
  {"s":"RBD/A520S","x":-4.77,"y":0.05},{"s":"RBD/A520S","x":-4.29,"y":0.06},{"s":"RBD/A520S","x":-3.82,"y":0.1},{"s":"RBD/A520S","x":-3.34,"y":0.22},{"s":"RBD/A520S","x":-2.86,"y":0.65},{"s":"RBD/A520S","x":-2.39,"y":1.45},{"s":"RBD/A520S","x":-1.91,"y":2.3},{"s":"RBD/A520S","x":-1.43,"y":2.8},{"s":"RBD/A520S","x":-0.95,"y":2.95},{"s":"RBD/A520S","x":-0.48,"y":2.97},{"s":"RBD/A520S","x":0,"y":2.96},
  {"s":"Control","x":-4.77,"y":0.03},{"s":"Control","x":-4.29,"y":0.03},{"s":"Control","x":-3.82,"y":0.03},{"s":"Control","x":-3.34,"y":0.03},{"s":"Control","x":-2.86,"y":0.03},{"s":"Control","x":-2.39,"y":0.03},{"s":"Control","x":-1.91,"y":0.03},{"s":"Control","x":-1.43,"y":0.03},{"s":"Control","x":-0.95,"y":0.03},{"s":"Control","x":-0.48,"y":0.03},{"s":"Control","x":0,"y":0.03}
 ],
 "g2": [
  {"s":"RBD/wt","x":-4.77,"y":0.08},{"s":"RBD/wt","x":-4.29,"y":0.08},{"s":"RBD/wt","x":-3.82,"y":0.12},{"s":"RBD/wt","x":-3.34,"y":0.25},{"s":"RBD/wt","x":-2.86,"y":0.65},{"s":"RBD/wt","x":-2.39,"y":1.35},{"s":"RBD/wt","x":-1.91,"y":2.2},{"s":"RBD/wt","x":-1.43,"y":2.6},{"s":"RBD/wt","x":-0.95,"y":2.8},{"s":"RBD/wt","x":-0.48,"y":2.78},{"s":"RBD/wt","x":0,"y":2.72},
  {"s":"RBD/N439K","x":-4.77,"y":0.06},{"s":"RBD/N439K","x":-4.29,"y":0.07},{"s":"RBD/N439K","x":-3.82,"y":0.1},{"s":"RBD/N439K","x":-3.34,"y":0.2},{"s":"RBD/N439K","x":-2.86,"y":0.55},{"s":"RBD/N439K","x":-2.39,"y":1.2},{"s":"RBD/N439K","x":-1.91,"y":1.95},{"s":"RBD/N439K","x":-1.43,"y":2.5},{"s":"RBD/N439K","x":-0.95,"y":2.75},{"s":"RBD/N439K","x":-0.48,"y":2.8},{"s":"RBD/N439K","x":0,"y":2.8},
  {"s":"RBD/V367F","x":-4.77,"y":0.08},{"s":"RBD/V367F","x":-4.29,"y":0.09},{"s":"RBD/V367F","x":-3.82,"y":0.13},{"s":"RBD/V367F","x":-3.34,"y":0.3},{"s":"RBD/V367F","x":-2.86,"y":0.75},{"s":"RBD/V367F","x":-2.39,"y":1.55},{"s":"RBD/V367F","x":-1.91,"y":2.35},{"s":"RBD/V367F","x":-1.43,"y":3.0},{"s":"RBD/V367F","x":-0.95,"y":2.9},{"s":"RBD/V367F","x":-0.48,"y":2.9},{"s":"RBD/V367F","x":0,"y":2.9},
  {"s":"RBD/G476S","x":-4.77,"y":0.07},{"s":"RBD/G476S","x":-4.29,"y":0.08},{"s":"RBD/G476S","x":-3.82,"y":0.12},{"s":"RBD/G476S","x":-3.34,"y":0.3},{"s":"RBD/G476S","x":-2.86,"y":0.75},{"s":"RBD/G476S","x":-2.39,"y":1.5},{"s":"RBD/G476S","x":-1.91,"y":2.45},{"s":"RBD/G476S","x":-1.43,"y":2.9},{"s":"RBD/G476S","x":-0.95,"y":3.0},{"s":"RBD/G476S","x":-0.48,"y":2.95},{"s":"RBD/G476S","x":0,"y":2.95},
  {"s":"RBD/V483A","x":-4.77,"y":0.08},{"s":"RBD/V483A","x":-4.29,"y":0.09},{"s":"RBD/V483A","x":-3.82,"y":0.14},{"s":"RBD/V483A","x":-3.34,"y":0.38},{"s":"RBD/V483A","x":-2.86,"y":0.85},{"s":"RBD/V483A","x":-2.39,"y":1.75},{"s":"RBD/V483A","x":-1.91,"y":2.55},{"s":"RBD/V483A","x":-1.43,"y":2.75},{"s":"RBD/V483A","x":-0.95,"y":2.8},{"s":"RBD/V483A","x":-0.48,"y":2.85},{"s":"RBD/V483A","x":0,"y":2.85},
  {"s":"RBD/Q414E","x":-4.77,"y":0.07},{"s":"RBD/Q414E","x":-4.29,"y":0.08},{"s":"RBD/Q414E","x":-3.82,"y":0.12},{"s":"RBD/Q414E","x":-3.34,"y":0.25},{"s":"RBD/Q414E","x":-2.86,"y":0.65},{"s":"RBD/Q414E","x":-2.39,"y":1.4},{"s":"RBD/Q414E","x":-1.91,"y":2.25},{"s":"RBD/Q414E","x":-1.43,"y":2.7},{"s":"RBD/Q414E","x":-0.95,"y":2.85},{"s":"RBD/Q414E","x":-0.48,"y":2.85},{"s":"RBD/Q414E","x":0,"y":2.85},
  {"s":"RBD/G446V","x":-4.77,"y":0.06},{"s":"RBD/G446V","x":-4.29,"y":0.07},{"s":"RBD/G446V","x":-3.82,"y":0.1},{"s":"RBD/G446V","x":-3.34,"y":0.22},{"s":"RBD/G446V","x":-2.86,"y":0.6},{"s":"RBD/G446V","x":-2.39,"y":1.25},{"s":"RBD/G446V","x":-1.91,"y":2.05},{"s":"RBD/G446V","x":-1.43,"y":2.6},{"s":"RBD/G446V","x":-0.95,"y":2.75},{"s":"RBD/G446V","x":-0.48,"y":2.8},{"s":"RBD/G446V","x":0,"y":2.8},
  {"s":"RBD/A475V","x":-4.77,"y":0.08},{"s":"RBD/A475V","x":-4.29,"y":0.09},{"s":"RBD/A475V","x":-3.82,"y":0.13},{"s":"RBD/A475V","x":-3.34,"y":0.35},{"s":"RBD/A475V","x":-2.86,"y":0.8},{"s":"RBD/A475V","x":-2.39,"y":1.6},{"s":"RBD/A475V","x":-1.91,"y":2.45},{"s":"RBD/A475V","x":-1.43,"y":2.95},{"s":"RBD/A475V","x":-0.95,"y":3.1},{"s":"RBD/A475V","x":-0.48,"y":2.95},{"s":"RBD/A475V","x":0,"y":2.95},
  {"s":"RBD/A520S","x":-4.77,"y":0.07},{"s":"RBD/A520S","x":-4.29,"y":0.08},{"s":"RBD/A520S","x":-3.82,"y":0.12},{"s":"RBD/A520S","x":-3.34,"y":0.3},{"s":"RBD/A520S","x":-2.86,"y":0.75},{"s":"RBD/A520S","x":-2.39,"y":1.55},{"s":"RBD/A520S","x":-1.91,"y":2.4},{"s":"RBD/A520S","x":-1.43,"y":2.85},{"s":"RBD/A520S","x":-0.95,"y":3.0},{"s":"RBD/A520S","x":-0.48,"y":2.95},{"s":"RBD/A520S","x":0,"y":3.0},
  {"s":"Control","x":-4.77,"y":0.05},{"s":"Control","x":-4.29,"y":0.05},{"s":"Control","x":-3.82,"y":0.05},{"s":"Control","x":-3.34,"y":0.05},{"s":"Control","x":-2.86,"y":0.05},{"s":"Control","x":-2.39,"y":0.05},{"s":"Control","x":-1.91,"y":0.05},{"s":"Control","x":-1.43,"y":0.05},{"s":"Control","x":-0.95,"y":0.05},{"s":"Control","x":-0.48,"y":0.05},{"s":"Control","x":0,"y":0.05}
 ]
},
"spacing": 8,
"vconcat": [
 {"spacing": 18, "resolve": {"scale": {"color": "independent", "shape": "independent", "fill": "independent", "stroke": "independent"}, "legend": {"color": "independent"}}, "hconcat": [
  {"title": {"text": "a", "offset": -4}, "width": 127, "height": 93, "data": {"name": "a"},
   "encoding": {
    "x": {"field": "x", "type": "quantitative", "scale": {"domain": [-5, 1.2], "nice": false, "zero": false}, "axis": {"title": "mAb (μg/ml) log10", "values": [-5,-4,-3,-2,-1,0,1]}},
    "y": {"field": "y", "type": "quantitative", "scale": {"domain": [0, 3.03], "nice": false}, "axis": {"title": "OD (450nm)", "values": [0,1,2,3]}},
    "color": {"field": "s", "type": "nominal", "scale": {"domain": ["MW05","MW07","Control"], "range": ["#f5383c","#3e4cf2","#000000"]},
     "legend": {"title": null, "orient": "top-left", "offset": 5, "encode": {"symbols": {"update": {
      "shape": {"signal": "['M-2.2,0H-0.9M0.9,0H2.2M0.9,0A0.9,0.9,0,1,1,-0.9,0A0.9,0.9,0,1,1,0.9,0Z','M-2.2,0H-0.8M0.8,0H2.2M-0.8,-0.8H0.8V0.8H-0.8Z','M-2.2,0H-0.55M0.55,0H2.2M0,-0.95L0.95,0.75H-0.95Z'][indexof(['MW05','MW07','Control'],datum.value)]"},
      "fill": {"signal": "['#f5383c','#3e4cf2','#000000'][indexof(['MW05','MW07','Control'],datum.value)]"},
      "stroke": {"signal": "['#f5383c','#3e4cf2','#000000'][indexof(['MW05','MW07','Control'],datum.value)]"}}}}}}
   },
   "layer": [
    {"transform": [{"filter": "indexof(datum.k,'f')>=0"}], "mark": {"type": "line", "interpolate": "monotone", "strokeWidth": 1.2}},
    {"transform": [{"filter": "indexof(datum.k,'p')>=0"}], "mark": {"type": "point", "filled": true, "size": 26, "opacity": 1},
     "encoding": {"shape": {"field": "s", "type": "nominal", "scale": {"domain": ["Control","MW05","MW07"], "range": ["triangle-up","circle","square"]}, "legend": null}}}
   ]},
  {"title": {"text": "b", "offset": -4}, "width": 126, "height": 92, "data": {"name": "b"},
   "encoding": {
    "x": {"field": "x", "type": "quantitative", "scale": {"domain": [-4.3, 1.45], "nice": false, "zero": false}, "axis": {"title": "mAb (μg/ml) log10", "values": [-4,-3,-2,-1,0,1]}},
    "y": {"field": "y", "type": "quantitative", "scale": {"domain": [0, 3.5], "nice": false}, "axis": {"title": "OD (450 nm)", "values": [0,1,2,3]}},
    "color": {"field": "s", "type": "nominal", "scale": {"domain": ["MW05","Control"], "range": ["#f5383c","#000000"]},
     "legend": {"title": null, "orient": "bottom-left", "offset": 8, "encode": {"symbols": {"update": {
      "shape": {"signal": "['M-2.2,0H-0.9M0.9,0H2.2M0.9,0A0.9,0.9,0,1,1,-0.9,0A0.9,0.9,0,1,1,0.9,0Z','M-2.2,0H-0.8M0.8,0H2.2M-0.8,-0.8H0.8V0.8H-0.8Z'][indexof(['MW05','Control'],datum.value)]"},
      "fill": {"signal": "['#f5383c','#000000'][indexof(['MW05','Control'],datum.value)]"},
      "stroke": {"signal": "['#f5383c','#000000'][indexof(['MW05','Control'],datum.value)]"}}}}}}
   },
   "layer": [
    {"transform": [{"filter": "indexof(datum.k,'f')>=0"}], "mark": {"type": "line", "interpolate": "monotone", "strokeWidth": 1.2}},
    {"transform": [{"filter": "indexof(datum.k,'p')>=0"}], "mark": {"type": "point", "filled": true, "size": 30, "opacity": 1},
     "encoding": {"shape": {"field": "s", "type": "nominal", "scale": {"domain": ["Control","MW05"], "range": ["square","circle"]}, "legend": null}}},
    {"transform": [{"filter": "datum.k==='t'"}], "mark": {"type": "text", "align": "left", "baseline": "middle", "fontSize": 8.5},
     "encoding": {"text": {"field": "t"}, "color": {"value": "#000000"}}}
   ]},
  {"title": {"text": "c", "offset": -4}, "width": 128, "height": 92, "data": {"name": "c"},
   "encoding": {
    "x": {"field": "x", "type": "quantitative", "scale": {"domain": [-4.3, 1.45], "nice": false, "zero": false}, "axis": {"title": "mAb (μg/ml) log10", "values": [-4,-3,-2,-1,0,1]}},
    "y": {"field": "y", "type": "quantitative", "scale": {"domain": [0, 3.5], "nice": false}, "axis": {"title": "OD (450 nm)", "values": [0,1,2,3]}},
    "color": {"field": "s", "type": "nominal", "scale": {"domain": ["MW07","Control"], "range": ["#3e4cf2","#000000"]},
     "legend": {"title": null, "orient": "bottom-left", "offset": 8, "encode": {"symbols": {"update": {
      "shape": {"signal": "['M-2.2,0H-0.9M0.9,0H2.2M0.9,0A0.9,0.9,0,1,1,-0.9,0A0.9,0.9,0,1,1,0.9,0Z','M-2.2,0H-0.8M0.8,0H2.2M-0.8,-0.8H0.8V0.8H-0.8Z'][indexof(['MW07','Control'],datum.value)]"},
      "fill": {"signal": "['#3e4cf2','#000000'][indexof(['MW07','Control'],datum.value)]"},
      "stroke": {"signal": "['#3e4cf2','#000000'][indexof(['MW07','Control'],datum.value)]"}}}}}}
   },
   "layer": [
    {"transform": [{"filter": "indexof(datum.k,'f')>=0"}], "mark": {"type": "line", "interpolate": "monotone", "strokeWidth": 1.2}},
    {"transform": [{"filter": "indexof(datum.k,'p')>=0"}], "mark": {"type": "point", "filled": true, "size": 30, "opacity": 1},
     "encoding": {"shape": {"field": "s", "type": "nominal", "scale": {"domain": ["Control","MW07"], "range": ["square","circle"]}, "legend": null}}},
    {"transform": [{"filter": "datum.k==='t'"}], "mark": {"type": "text", "align": "left", "baseline": "middle", "fontSize": 8.5},
     "encoding": {"text": {"field": "t"}, "color": {"value": "#000000"}}}
   ]},
  {"title": {"text": "d", "offset": -4}, "width": 138, "height": 93, "data": {"name": "d"},
   "encoding": {
    "x": {"field": "x", "type": "quantitative", "scale": {"domain": [-4.1, 2.0], "nice": false, "zero": false}, "axis": {"title": "mAb (μg/ml) log10", "values": [-4,-3,-2,-1,0,1]}},
    "y": {"field": "y", "type": "quantitative", "scale": {"domain": [0, 52000], "nice": false}, "axis": {"title": "Mean fluorescence intensity", "titleFontSize": 7.2, "values": [0,10000,20000,30000,40000,50000], "format": ",.0f"}},
    "color": {"field": "s", "type": "nominal", "scale": {"domain": ["MW05","MW07","ACE2","Control"], "range": ["#f5383c","#3e4cf2","#22a13c","#000000"]},
     "legend": {"title": null, "orient": "top-left", "offset": 6, "encode": {"symbols": {"update": {
      "shape": {"signal": "['M-2.2,0H-0.9M0.9,0H2.2M0.9,0A0.9,0.9,0,1,1,-0.9,0A0.9,0.9,0,1,1,0.9,0Z','M-2.2,0H-0.8M0.8,0H2.2M-0.8,-0.8H0.8V0.8H-0.8Z','M-2.2,0H-0.55M0.55,0H2.2M0,-0.95L0.95,0.75H-0.95Z','M-2.2,0H-0.55M0.55,0H2.2M0,0.95L0.95,-0.75H-0.95Z'][indexof(['MW05','MW07','ACE2','Control'],datum.value)]"},
      "fill": {"signal": "['#f5383c','#3e4cf2','#22a13c','#000000'][indexof(['MW05','MW07','ACE2','Control'],datum.value)]"},
      "stroke": {"signal": "['#f5383c','#3e4cf2','#22a13c','#000000'][indexof(['MW05','MW07','ACE2','Control'],datum.value)]"}}}}}}
   },
   "layer": [
    {"transform": [{"filter": "indexof(datum.k,'f')>=0"}], "mark": {"type": "line", "interpolate": "monotone", "strokeWidth": 1.2}},
    {"transform": [{"filter": "indexof(datum.k,'p')>=0"}], "mark": {"type": "point", "filled": true, "size": 26, "opacity": 1},
     "encoding": {"shape": {"field": "s", "type": "nominal", "scale": {"domain": ["Control","MW05","MW07","ACE2"], "range": ["triangle-down","circle","square","triangle-up"]}, "legend": null}}}
   ]}
 ]},
 {"spacing": 15, "resolve": {"scale": {"color": "independent", "shape": "independent", "fill": "independent", "stroke": "independent"}, "legend": {"color": "independent"}}, "hconcat": [
  {"title": {"text": "e", "offset": -12}, "spacing": 22, "resolve": {"scale": {"color": "independent"}, "legend": {"color": "independent"}}, "hconcat": [
   {"title": {"text": "MW05 Kd=0.403 nM", "anchor": "middle", "fontSize": 9.5, "fontWeight": "normal", "offset": 8}, "width": 148, "height": 90, "data": {"name": "e1"},
    "encoding": {
     "x": {"field": "t", "type": "quantitative", "scale": {"domain": [-100, 425], "nice": false, "zero": false}, "axis": {"title": null, "values": [-100,0,100,200,300,400]}},
     "y": {"field": "y", "type": "quantitative", "scale": {"domain": [-5, 30], "nice": false, "zero": false}, "axis": {"title": null, "values": [-5,0,5,10,15,20,25,30]}}},
    "layer": [
     {"mark": {"type": "line", "interpolate": "monotone", "strokeWidth": 2.2, "opacity": 0.5}, "encoding": {"color": {"field": "c", "type": "nominal", "scale": {"domain": [1,2,3,4,5,6], "range": ["#d6a52a","#2aa9a9","#c83ccc","#2e3fd0","#2a7d2a","#d42a2a"]}, "legend": null}}},
     {"transform": [{"filter": "datum.t >= 0"}], "mark": {"type": "line", "interpolate": "monotone", "strokeWidth": 0.8, "color": "#000000"}, "encoding": {"detail": {"field": "c", "type": "nominal"}}}
    ]},
   {"title": {"text": "MW07 Kd=0.462 nM", "anchor": "middle", "fontSize": 9.5, "fontWeight": "normal", "offset": 8}, "width": 147, "height": 90, "data": {"name": "e2"},
    "encoding": {
     "x": {"field": "t", "type": "quantitative", "scale": {"domain": [-100, 425], "nice": false, "zero": false}, "axis": {"title": null, "values": [-100,0,100,200,300,400]}},
     "y": {"field": "y", "type": "quantitative", "scale": {"domain": [-5, 25], "nice": false, "zero": false}, "axis": {"title": null, "values": [-5,0,5,10,15,20,25]}}},
    "layer": [
     {"mark": {"type": "line", "interpolate": "monotone", "strokeWidth": 2.2, "opacity": 0.5}, "encoding": {"color": {"field": "c", "type": "nominal", "scale": {"domain": [1,2,3,4,5,6], "range": ["#d6a52a","#2aa9a9","#c83ccc","#2e3fd0","#2a7d2a","#d42a2a"]}, "legend": null}}},
     {"transform": [{"filter": "datum.t >= 0"}], "mark": {"type": "line", "interpolate": "monotone", "strokeWidth": 0.8, "color": "#000000"}, "encoding": {"detail": {"field": "c", "type": "nominal"}}}
    ]}
  ]},
  {"title": {"text": "f", "offset": -12}, "spacing": 13, "resolve": {"scale": {"color": "independent", "shape": "independent"}, "legend": {"color": "independent"}}, "hconcat": [
   {"title": {"text": "MW05", "anchor": "middle", "fontSize": 9.5, "fontWeight": "normal", "offset": 5}, "width": 126, "height": 92, "data": {"name": "f1"},
    "encoding": {
     "x": {"field": "x", "type": "quantitative", "scale": {"domain": [-5, 1.15], "nice": false, "zero": false}, "axis": {"title": "mAb (μg/ml) log10", "values": [-5,-4,-3,-2,-1,0,1]}},
     "y": {"field": "y", "type": "quantitative", "scale": {"domain": [0, 3], "nice": false}, "axis": {"title": "OD (450 nm)", "values": [0,1,2,3]}},
     "color": {"field": "s", "type": "nominal", "scale": {"domain": ["SARS-CoV-2 S1","SARS-CoV S1","MERS-CoV S1","Control"], "range": ["#f5383c","#1e9a2e","#a39220","#000000"]},
      "legend": {"title": null, "orient": "top-left", "offset": 6, "encode": {"symbols": {"update": {
       "shape": {"signal": "['M-2.2,0H-0.9M0.9,0H2.2M0.9,0A0.9,0.9,0,1,1,-0.9,0A0.9,0.9,0,1,1,0.9,0Z','M-2.2,0H-0.8M0.8,0H2.2M-0.8,-0.8H0.8V0.8H-0.8Z','M-2.2,0H-0.55M0.55,0H2.2M0,-0.95L0.95,0.75H-0.95Z','M-2.2,0H-0.55M0.55,0H2.2M0,0.95L0.95,-0.75H-0.95Z'][indexof(['SARS-CoV-2 S1','SARS-CoV S1','MERS-CoV S1','Control'],datum.value)]"},
       "fill": {"signal": "['#f5383c','#1e9a2e','#a39220','#000000'][indexof(['SARS-CoV-2 S1','SARS-CoV S1','MERS-CoV S1','Control'],datum.value)]"},
       "stroke": {"signal": "['#f5383c','#1e9a2e','#a39220','#000000'][indexof(['SARS-CoV-2 S1','SARS-CoV S1','MERS-CoV S1','Control'],datum.value)]"}}}}}}
    },
    "layer": [
     {"transform": [{"filter": "indexof(datum.k,'f')>=0"}], "mark": {"type": "line", "interpolate": "monotone", "strokeWidth": 1.2}},
     {"transform": [{"filter": "indexof(datum.k,'p')>=0"}], "mark": {"type": "point", "filled": true, "size": 28, "opacity": 1},
      "encoding": {"shape": {"field": "s", "type": "nominal", "scale": {"domain": ["Control","SARS-CoV-2 S1","SARS-CoV S1","MERS-CoV S1"], "range": ["triangle-down","circle","square","triangle-up"]}, "legend": null}}}
    ]},
   {"title": {"text": "MW07", "anchor": "middle", "fontSize": 9.5, "fontWeight": "normal", "offset": 5}, "width": 127, "height": 92, "data": {"name": "f2"},
    "encoding": {
     "x": {"field": "x", "type": "quantitative", "scale": {"domain": [-5, 1.15], "nice": false, "zero": false}, "axis": {"title": "mAb (μg/ml) log10", "values": [-5,-4,-3,-2,-1,0,1]}},
     "y": {"field": "y", "type": "quantitative", "scale": {"domain": [0, 3], "nice": false}, "axis": {"title": "OD (450 nm)", "values": [0,1,2,3]}},
     "color": {"field": "s", "type": "nominal", "scale": {"domain": ["SARS-CoV-2 S1","SARS-CoV S1","MERS-CoV S1","Control"], "range": ["#3e4cf2","#1e9a2e","#a39220","#000000"]},
      "legend": {"title": null, "orient": "top-left", "offset": 6, "encode": {"symbols": {"update": {
       "shape": {"signal": "['M-2.2,0H-0.9M0.9,0H2.2M0.9,0A0.9,0.9,0,1,1,-0.9,0A0.9,0.9,0,1,1,0.9,0Z','M-2.2,0H-0.8M0.8,0H2.2M-0.8,-0.8H0.8V0.8H-0.8Z','M-2.2,0H-0.55M0.55,0H2.2M0,-0.95L0.95,0.75H-0.95Z','M-2.2,0H-0.55M0.55,0H2.2M0,0.95L0.95,-0.75H-0.95Z'][indexof(['SARS-CoV-2 S1','SARS-CoV S1','MERS-CoV S1','Control'],datum.value)]"},
       "fill": {"signal": "['#3e4cf2','#1e9a2e','#a39220','#000000'][indexof(['SARS-CoV-2 S1','SARS-CoV S1','MERS-CoV S1','Control'],datum.value)]"},
       "stroke": {"signal": "['#3e4cf2','#1e9a2e','#a39220','#000000'][indexof(['SARS-CoV-2 S1','SARS-CoV S1','MERS-CoV S1','Control'],datum.value)]"}}}}}}
    },
    "layer": [
     {"transform": [{"filter": "indexof(datum.k,'f')>=0"}], "mark": {"type": "line", "interpolate": "monotone", "strokeWidth": 1.2}},
     {"transform": [{"filter": "indexof(datum.k,'p')>=0"}], "mark": {"type": "point", "filled": true, "size": 28, "opacity": 1},
      "encoding": {"shape": {"field": "s", "type": "nominal", "scale": {"domain": ["Control","SARS-CoV-2 S1","SARS-CoV S1","MERS-CoV S1"], "range": ["triangle-down","circle","square","triangle-up"]}, "legend": null}}}
    ]}
  ]}
 ]},
 {"title": {"text": "g", "offset": -12}, "spacing": 16, "resolve": {"scale": {"color": "independent", "shape": "independent", "fill": "independent", "stroke": "independent"}, "legend": {"color": "independent"}}, "hconcat": [
  {"title": {"text": "MW05", "anchor": "middle", "fontSize": 9.5, "fontWeight": "normal", "offset": 4}, "width": 131, "height": 91, "data": {"name": "g1"},
   "encoding": {
    "x": {"field": "x", "type": "quantitative", "scale": {"domain": [-5, 1.3], "nice": false, "zero": false}, "axis": {"title": "mAb (μg/ml) log10", "values": [-5,-4,-3,-2,-1,0,1]}},
    "y": {"field": "y", "type": "quantitative", "scale": {"domain": [0, 3.5], "nice": false}, "axis": {"title": "OD (450 nm)", "values": [0,1,2,3]}}
   },
   "layer": [
    {"mark": {"type": "line", "interpolate": "monotone", "strokeWidth": 1.1},
     "encoding": {"color": {"field": "s", "type": "nominal", "scale": {"domain": ["RBD/wt","RBD/N439K","RBD/V367F","RBD/G476S","RBD/V483A","RBD/Q414E","RBD/G446V","RBD/A475V","RBD/A520S","Control"], "range": ["#f0252b","#a335e0","#2bd34a","#2ee6f0","#2a3de8","#f6b98f","#b04be8","#3de83d","#30e4ee","#000000"]}, "legend": null}}},
    {"mark": {"type": "point", "size": 24, "opacity": 1, "strokeWidth": 1.1},
     "encoding": {
      "shape": {"field": "s", "type": "nominal", "scale": {"domain": ["Control","RBD/wt","RBD/N439K","RBD/V367F","RBD/G476S","RBD/V483A","RBD/Q414E","RBD/G446V","RBD/A475V","RBD/A520S"], "range": ["diamond","circle","square","triangle-up","triangle-down","diamond","circle","square","triangle-up","triangle-down"]}, "legend": null},
      "fill": {"field": "s", "type": "nominal", "scale": {"domain": ["RBD/wt","RBD/N439K","RBD/V367F","RBD/G476S","RBD/V483A","RBD/Q414E","RBD/G446V","RBD/A475V","RBD/A520S","Control"], "range": ["#f0252b","#a335e0","#2bd34a","#2ee6f0","#2a3de8","#ffffff","#ffffff","#ffffff","#ffffff","#ffffff"]}, "legend": null},
      "stroke": {"field": "s", "type": "nominal", "scale": {"domain": ["RBD/wt","RBD/N439K","RBD/V367F","RBD/G476S","RBD/V483A","RBD/Q414E","RBD/G446V","RBD/A475V","RBD/A520S","Control"], "range": ["#f0252b","#a335e0","#2bd34a","#2ee6f0","#2a3de8","#f6b98f","#b04be8","#3de83d","#30e4ee","#000000"]}, "legend": null}}}
   ]},
  {"title": {"text": "MW07", "anchor": "middle", "fontSize": 9.5, "fontWeight": "normal", "offset": 4}, "width": 132, "height": 91, "data": {"name": "g2"},
   "encoding": {
    "x": {"field": "x", "type": "quantitative", "scale": {"domain": [-5, 1.3], "nice": false, "zero": false}, "axis": {"title": "mAb (μg/ml) log10", "values": [-5,-4,-3,-2,-1,0,1]}},
    "y": {"field": "y", "type": "quantitative", "scale": {"domain": [0, 3.5], "nice": false}, "axis": {"title": "OD (450 nm)", "values": [0,1,2,3]}}
   },
   "layer": [
    {"mark": {"type": "line", "interpolate": "monotone", "strokeWidth": 1.1},
     "encoding": {"color": {"field": "s", "type": "nominal", "scale": {"domain": ["RBD/wt","RBD/N439K","RBD/V367F","RBD/G476S","RBD/V483A","RBD/Q414E","RBD/G446V","RBD/A475V","RBD/A520S","Control"], "range": ["#f0252b","#a335e0","#2bd34a","#2ee6f0","#2a3de8","#f6b98f","#b04be8","#3de83d","#30e4ee","#000000"]},
      "legend": {"title": null, "orient": "right", "offset": 14, "rowPadding": 0, "labelFontSize": 8, "encode": {"symbols": {"update": {
       "shape": {"signal": "['M-2.2,0H-0.9M0.9,0H2.2M0.9,0A0.9,0.9,0,1,1,-0.9,0A0.9,0.9,0,1,1,0.9,0Z','M-2.2,0H-0.8M0.8,0H2.2M-0.8,-0.8H0.8V0.8H-0.8Z','M-2.2,0H-0.55M0.55,0H2.2M0,-0.95L0.95,0.75H-0.95Z','M-2.2,0H-0.55M0.55,0H2.2M0,0.95L0.95,-0.75H-0.95Z','M-2.2,0H-0.85M0.85,0H2.2M0,-1L0.85,0L0,1L-0.85,0Z'][indexof(['RBD/wt','RBD/N439K','RBD/V367F','RBD/G476S','RBD/V483A','RBD/Q414E','RBD/G446V','RBD/A475V','RBD/A520S','Control'],datum.value)%5]"},
       "fill": {"signal": "['#f0252b','#a335e0','#2bd34a','#2ee6f0','#2a3de8','#ffffff','#ffffff','#ffffff','#ffffff','#ffffff'][indexof(['RBD/wt','RBD/N439K','RBD/V367F','RBD/G476S','RBD/V483A','RBD/Q414E','RBD/G446V','RBD/A475V','RBD/A520S','Control'],datum.value)]"},
       "stroke": {"signal": "['#f0252b','#a335e0','#2bd34a','#2ee6f0','#2a3de8','#f6b98f','#b04be8','#3de83d','#30e4ee','#000000'][indexof(['RBD/wt','RBD/N439K','RBD/V367F','RBD/G476S','RBD/V483A','RBD/Q414E','RBD/G446V','RBD/A475V','RBD/A520S','Control'],datum.value)]"}}}}}}}},
    {"mark": {"type": "point", "size": 24, "opacity": 1, "strokeWidth": 1.1},
     "encoding": {
      "shape": {"field": "s", "type": "nominal", "scale": {"domain": ["Control","RBD/wt","RBD/N439K","RBD/V367F","RBD/G476S","RBD/V483A","RBD/Q414E","RBD/G446V","RBD/A475V","RBD/A520S"], "range": ["diamond","circle","square","triangle-up","triangle-down","diamond","circle","square","triangle-up","triangle-down"]}, "legend": null},
      "fill": {"field": "s", "type": "nominal", "scale": {"domain": ["RBD/wt","RBD/N439K","RBD/V367F","RBD/G476S","RBD/V483A","RBD/Q414E","RBD/G446V","RBD/A475V","RBD/A520S","Control"], "range": ["#f0252b","#a335e0","#2bd34a","#2ee6f0","#2a3de8","#ffffff","#ffffff","#ffffff","#ffffff","#ffffff"]}, "legend": null},
      "stroke": {"field": "s", "type": "nominal", "scale": {"domain": ["RBD/wt","RBD/N439K","RBD/V367F","RBD/G476S","RBD/V483A","RBD/Q414E","RBD/G446V","RBD/A475V","RBD/A520S","Control"], "range": ["#f0252b","#a335e0","#2bd34a","#2ee6f0","#2a3de8","#f6b98f","#b04be8","#3de83d","#30e4ee","#000000"]}, "legend": null}}}
   ]}
 ]}
]
}
